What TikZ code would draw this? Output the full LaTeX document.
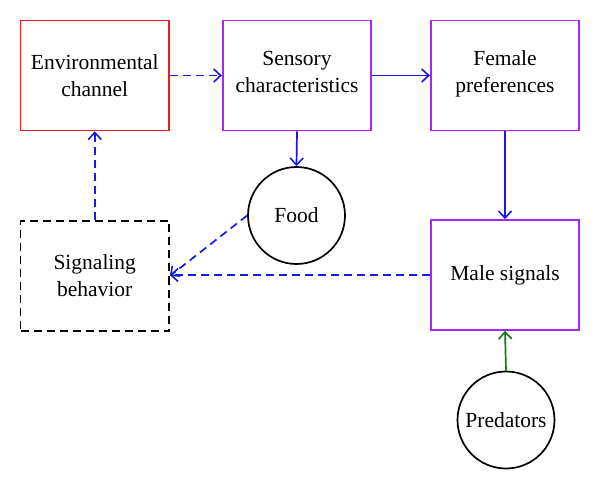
\documentclass[tikz,border=0pt]{standalone}
\usepackage{fontspec}
\setmainfont{Liberation Serif}
\usetikzlibrary{arrows.meta}
\definecolor{boxred}{RGB}{230,30,35}
\definecolor{boxpurple}{RGB}{165,40,240}
\definecolor{arrblue}{RGB}{25,25,225}
\definecolor{arrgreen}{RGB}{20,120,20}
\begin{document}
\begin{tikzpicture}[x=1pt,y=-1pt,
  every node/.style={font=\fontsize{21.5}{27}\selectfont, align=center, inner sep=0pt},
  boxnode/.style={draw, line width=1.7pt, minimum width=148.5pt, minimum height=110pt},
  circnode/.style={draw, circle, line width=1.7pt, minimum size=97pt},
  conn/.style={line width=1.7pt, arrblue, -{Straight Barb[length=7pt,width=13pt,line width=1.6pt]}},
  dashedconn/.style={conn, dash pattern=on 8pt off 5pt}
]
\useasboundingbox (0,0) rectangle (600,489);
\node[boxnode, draw=boxred] (env) at (94.75,75.5) {Environmental\\channel};
\node[boxnode, draw=boxpurple] (sens) at (297,75.5) {Sensory\\characteristics\\[-19pt]};
\node[boxnode, draw=boxpurple] (fem) at (505,75.5) {Female\\preferences\\[-19pt]};
\node[boxnode, draw=black, dash pattern=on 8pt off 5pt] (sig) at (94.75,276) {Signaling\\behavior};
\node[boxnode, draw=boxpurple] (male) at (505,275) {Male signals};
\node[circnode] (food) at (296.5,215.5) {Food};
\node[circnode] (pred) at (506,420) {Predators};
\draw[dashedconn] (env.east) -- (sens.west);
\draw[conn] (sens.east) -- (fem.west);
\draw[conn] (sens.south) -- (food.north);
\draw[conn] (fem.south) -- (male.north);
\draw[dashedconn] (male.west) -- (male.west -| sig.east);
\draw[dashedconn] (food.west) -- (sig.east);
\draw[dashedconn] (sig.north) -- (env.south);
\draw[conn, arrgreen] (pred.north) -- (male.south);
\end{tikzpicture}
\end{document}
